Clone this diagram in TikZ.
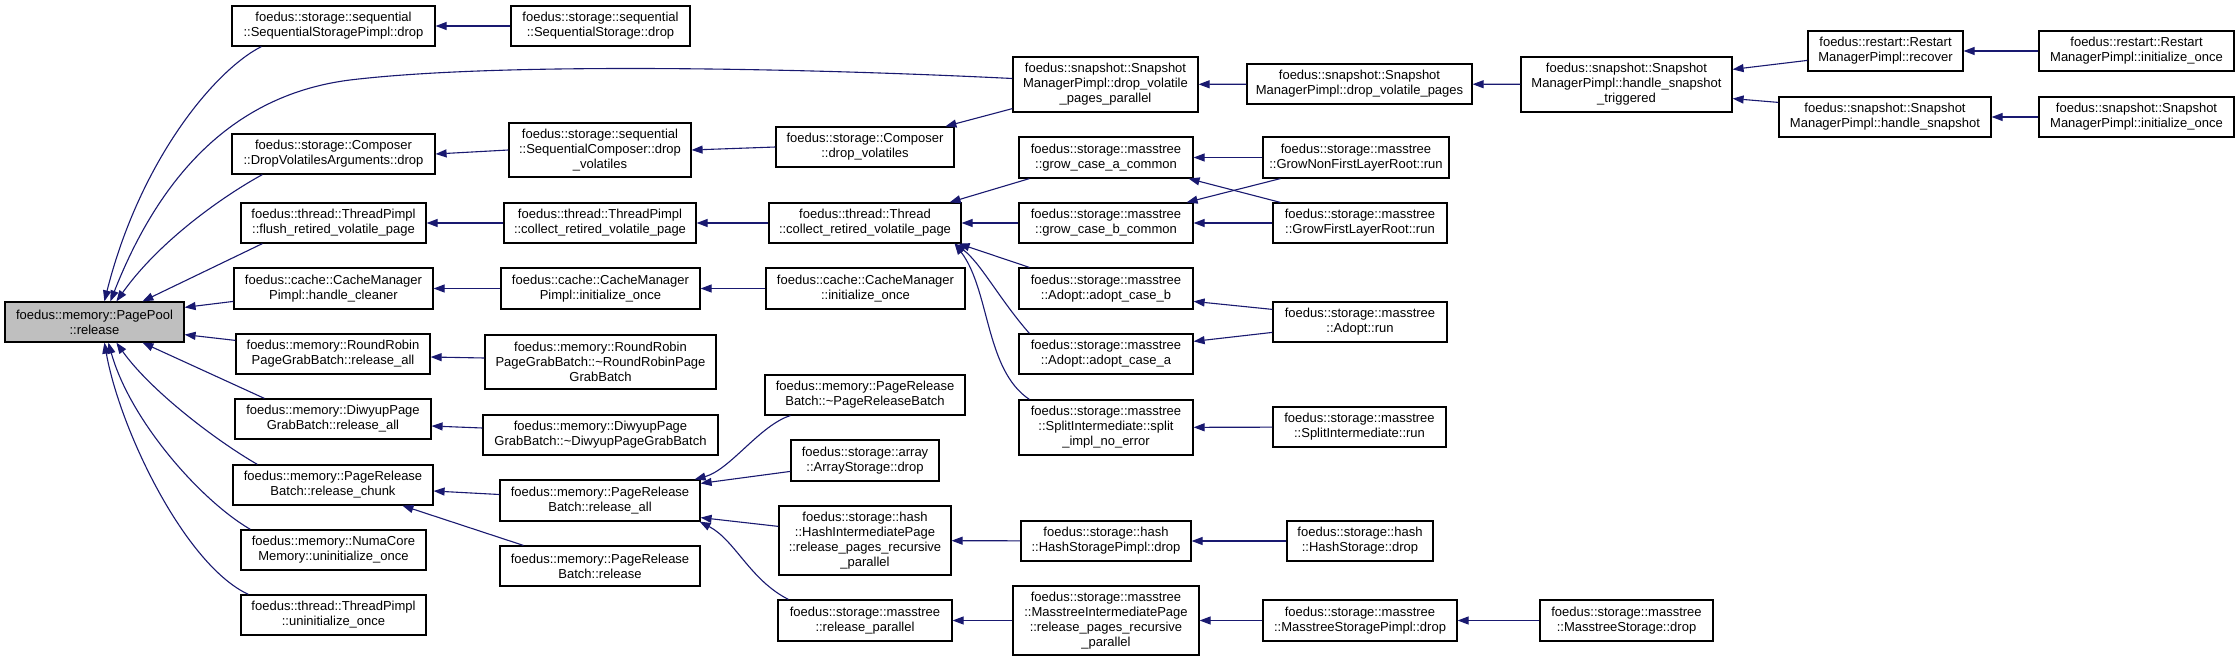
\documentclass[tikz,border=0pt]{standalone}
\usepackage{fontspec}
\setmainfont{Liberation Sans}
\usetikzlibrary{arrows.meta}
\definecolor{edgec}{HTML}{191970}
\definecolor{grayfill}{HTML}{BFBFBF}
\tikzset{
  box/.style={draw=black, line width=1.2pt, fill=white, inner sep=0pt, align=center,
    font=\fontsize{13}{15}\selectfont},
  rootbox/.style={fill=grayfill},
  edge/.style={draw=edgec, line width=1.1pt, -{Triangle[length=11pt,width=8pt]}}
}
\newcommand\dnode[7][]{\node[box,#1,minimum width={(#4-#2)*1pt},minimum height={(#5-#3)*1pt}] (#6) at ({(#2+#4)/2},{(#3+#5)/2}) {#7};}
\begin{document}
\begin{tikzpicture}[x=1pt,y=-1pt]
\fill[white] (0,0) rectangle (2239,661);
\useasboundingbox (0,0) rectangle (2239,661);
% column 0
\dnode[rootbox]{5}{302}{184}{342}{pp}{foedus::memory::PagePool\\::release}
% column 1
\dnode{232}{6}{435}{46}{ssp}{foedus::storage::sequential\\::SequentialStoragePimpl::drop}
\dnode{232}{134}{435}{174}{cdva}{foedus::storage::Composer\\::DropVolatilesArguments::drop}
\dnode{241}{203}{426}{243}{trfl}{foedus::thread::ThreadPimpl\\::flush\_retired\_volatile\_page}
\dnode{234}{268}{433}{309}{cmhc}{foedus::cache::CacheManager\\Pimpl::handle\_cleaner}
\dnode{236}{334}{430}{374}{rrra}{foedus::memory::RoundRobin\\PageGrabBatch::release\_all}
\dnode{235}{399}{431}{439}{dwra}{foedus::memory::DiwyupPage\\GrabBatch::release\_all}
\dnode{233}{465}{433}{505}{prrc}{foedus::memory::PageRelease\\Batch::release\_chunk}
\dnode{241}{530}{426}{570}{nuc}{foedus::memory::NumaCore\\Memory::uninitialize\_once}
\dnode{241}{595}{426}{635}{tpu}{foedus::thread::ThreadPimpl\\::uninitialize\_once}
% column 2
\dnode{511}{6}{690}{46}{ss}{foedus::storage::sequential\\::SequentialStorage::drop}
\dnode{509}{123}{691}{177}{scdv}{foedus::storage::sequential\\::SequentialComposer::drop\\\_volatiles}
\dnode{504}{203}{696}{243}{tpcr}{foedus::thread::ThreadPimpl\\::collect\_retired\_volatile\_page}
\dnode{501}{268}{700}{309}{cmio}{foedus::cache::CacheManager\\Pimpl::initialize\_once}
\dnode{485}{335}{716}{389}{rrd}{foedus::memory::RoundRobin\\PageGrabBatch::\textasciitilde RoundRobinPage\\GrabBatch}
\dnode{483}{415}{718}{455}{dwd}{foedus::memory::DiwyupPage\\GrabBatch::\textasciitilde DiwyupPageGrabBatch}
\dnode{500}{480}{700}{521}{prra}{foedus::memory::PageRelease\\Batch::release\_all}
\dnode{500}{546}{700}{586}{prr}{foedus::memory::PageRelease\\Batch::release}
% column 3
\dnode{776}{127}{954}{167}{cdv}{foedus::storage::Composer\\::drop\_volatiles}
\dnode{769}{203}{961}{243}{tcr}{foedus::thread::Thread\\::collect\_retired\_volatile\_page}
\dnode{766}{268}{965}{309}{cmi}{foedus::cache::CacheManager\\::initialize\_once}
\dnode{765}{375}{965}{415}{prbd}{foedus::memory::PageRelease\\Batch::\textasciitilde PageReleaseBatch}
\dnode{791}{440}{939}{481}{asd}{foedus::storage::array\\::ArrayStorage::drop}
\dnode{779}{506}{951}{575}{hip}{foedus::storage::hash\\::HashIntermediatePage\\::release\_pages\_recursive\\\_parallel}
\dnode{778}{600}{952}{641}{mrp}{foedus::storage::masstree\\::release\_parallel}
% column 4
\dnode{1013}{57}{1198}{112}{smdvpp}{foedus::snapshot::Snapshot\\ManagerPimpl::drop\_volatile\\\_pages\_parallel}
\dnode{1019}{137}{1193}{178}{gca}{foedus::storage::masstree\\::grow\_case\_a\_common}
\dnode{1019}{203}{1193}{243}{gcb}{foedus::storage::masstree\\::grow\_case\_b\_common}
\dnode{1019}{268}{1193}{309}{aacb}{foedus::storage::masstree\\::Adopt::adopt\_case\_b}
\dnode{1019}{334}{1193}{374}{aaca}{foedus::storage::masstree\\::Adopt::adopt\_case\_a}
\dnode{1019}{400}{1193}{455}{sisn}{foedus::storage::masstree\\::SplitIntermediate::split\\\_impl\_no\_error}
\dnode{1021}{521}{1191}{561}{hspd}{foedus::storage::hash\\::HashStoragePimpl::drop}
\dnode{1013}{586}{1199}{655}{mip}{foedus::storage::masstree\\::MasstreeIntermediatePage\\::release\_pages\_recursive\\\_parallel}
% column 5
\dnode{1247}{64}{1472}{104}{smdvp}{foedus::snapshot::Snapshot\\ManagerPimpl::drop\_volatile\_pages}
\dnode{1263}{137}{1449}{178}{gnfl}{foedus::storage::masstree\\::GrowNonFirstLayerRoot::run}
\dnode{1273}{203}{1447}{243}{gflr}{foedus::storage::masstree\\::GrowFirstLayerRoot::run}
\dnode{1273}{302}{1447}{342}{arun}{foedus::storage::masstree\\::Adopt::run}
\dnode{1273}{407}{1446}{447}{sir}{foedus::storage::masstree\\::SplitIntermediate::run}
\dnode{1287}{521}{1433}{561}{hsd}{foedus::storage::hash\\::HashStorage::drop}
\dnode{1263}{600}{1457}{641}{mspd}{foedus::storage::masstree\\::MasstreeStoragePimpl::drop}
% column 6+
\dnode{1521}{57}{1732}{112}{smhst}{foedus::snapshot::Snapshot\\ManagerPimpl::handle\_snapshot\\\_triggered}
\dnode{1540}{600}{1713}{641}{msd}{foedus::storage::masstree\\::MasstreeStorage::drop}
\dnode{1808}{31}{1963}{71}{rmr}{foedus::restart::Restart\\ManagerPimpl::recover}
\dnode{1779}{97}{1991}{137}{smhs}{foedus::snapshot::Snapshot\\ManagerPimpl::handle\_snapshot}
\dnode{2039}{31}{2234}{71}{rmio}{foedus::restart::Restart\\ManagerPimpl::initialize\_once}
\dnode{2039}{97}{2234}{137}{smio}{foedus::snapshot::Snapshot\\ManagerPimpl::initialize\_once}
% edges into PagePool
\draw[edge] ([xshift=30pt]ssp.south west) .. controls (215,70) and (140,160) .. ([xshift=100pt]pp.north west);
\draw[edge] ([yshift=6pt]smdvpp.west) .. controls (800,68) and (500,62) .. (350,80) .. controls (255,92) and (170,150) .. ([xshift=106pt]pp.north west);
\draw[edge] ([xshift=31pt]cdva.south west) .. controls (225,195) and (160,240) .. ([xshift=112pt]pp.north west);
\draw[edge] ([xshift=22pt]trfl.south west) -- ([xshift=138pt]pp.north west);
\draw[edge] ([yshift=-34pt]cmhc.north west) -- ([yshift=-6pt]pp.north east);
\draw[edge] ([yshift=-7pt]rrra.north west) -- ([yshift=8pt]pp.south east);
\draw[edge] ([xshift=30pt]dwra.north west) -- ([xshift=138pt]pp.south west);
\draw[edge] ([xshift=25pt]prrc.north west) .. controls (215,440) and (150,390) .. ([xshift=112pt]pp.south west);
\draw[edge] ([xshift=10pt]nuc.north west) .. controls (200,500) and (130,420) .. ([xshift=104pt]pp.south west);
\draw[edge] ([xshift=8pt]tpu.north west) .. controls (185,565) and (120,430) .. ([xshift=100pt]pp.south west);
% column 2 -> 1
\draw[edge] (ss) -- (ssp);
\draw[edge] (scdv.west) -- (cdva.east);
\draw[edge] (tpcr) -- (trfl);
\draw[edge] (cmio) -- (cmhc);
\draw[edge] ([yshift=4pt]rrd.west) -- ([yshift=-3pt]rrra.east);
\draw[edge] ([yshift=7pt]dwd.west) -- ([yshift=-7pt]dwra.east);
\draw[edge] ([yshift=6pt]prra.west) -- ([yshift=-6pt]prrc.east);
\draw[edge] ([xshift=24pt]prr.north west) -- ([xshift=170pt]prrc.south west);
% column 3 -> 2
\draw[edge] (cdv.west) -- (scdv.east);
\draw[edge] (tcr) -- (tpcr);
\draw[edge] (cmi) -- (cmio);
\draw[edge] ([xshift=26pt]prbd.south west) .. controls (760,425) and (730,470) .. ([xshift=-6pt]prra.north east);
\draw[edge] ([yshift=-32pt]asd.north west) -- ([yshift=-4pt]prra.north east);
\draw[edge] ([yshift=-21pt]hip.north west) -- ([yshift=4pt]prra.south east);
\draw[edge] ([xshift=11pt]mrp.north west) .. controls (750,580) and (735,540) .. ([xshift=-1pt]prra.south east);
% column 4 -> 3
\draw[edge] ([yshift=4pt]smdvpp.south west) -- ([xshift=170pt]cdv.north west);
\draw[edge] ([xshift=11pt]gca.south west) -- ([xshift=-12pt]tcr.north east);
\draw[edge] (gcb) -- (tcr);
\draw[edge] ([xshift=11pt]aacb.north west) -- ([xshift=-3pt]tcr.south east);
\draw[edge] ([xshift=11pt]aaca.north west) .. controls (1000,300) and (980,262) .. ([xshift=-7pt]tcr.south east);
\draw[edge] ([xshift=11pt]sisn.north west) .. controls (985,370) and (990,290) .. ([xshift=-7pt]tcr.south east);
\draw[edge] (hspd) -- (hip);
\draw[edge] (mip) -- (mrp);
% column 5 -> 4
\draw[edge] (smdvp) -- (smdvpp);
\draw[edge] (gnfl) -- (gca);
\draw[edge] ([xshift=8pt]gflr.north west) -- ([xshift=-5pt]gca.south east);
\draw[edge] ([xshift=18pt]gnfl.south west) -- ([xshift=-7pt]gcb.north east);
\draw[edge] (gflr) -- (gcb);
\draw[edge] ([yshift=-8pt]arun.north west) -- ([yshift=-34pt]aacb.north east);
\draw[edge] ([yshift=-31pt]arun.north west) -- ([yshift=-8pt]aaca.north east);
\draw[edge] (sir) -- (sisn);
\draw[edge] (hsd) -- (hspd);
\draw[edge] (mspd) -- (mip);
% further right
\draw[edge] (smhst) -- (smdvp);
\draw[edge] (msd) -- (mspd);
\draw[edge] ([yshift=-30pt]rmr.north west) -- ([yshift=-13pt]smhst.north east);
\draw[edge] ([yshift=-6pt]smhs.north west) -- ([yshift=14pt]smhst.south east);
\draw[edge] (rmio) -- (rmr);
\draw[edge] (smio) -- (smhs);
\end{tikzpicture}
\end{document}
